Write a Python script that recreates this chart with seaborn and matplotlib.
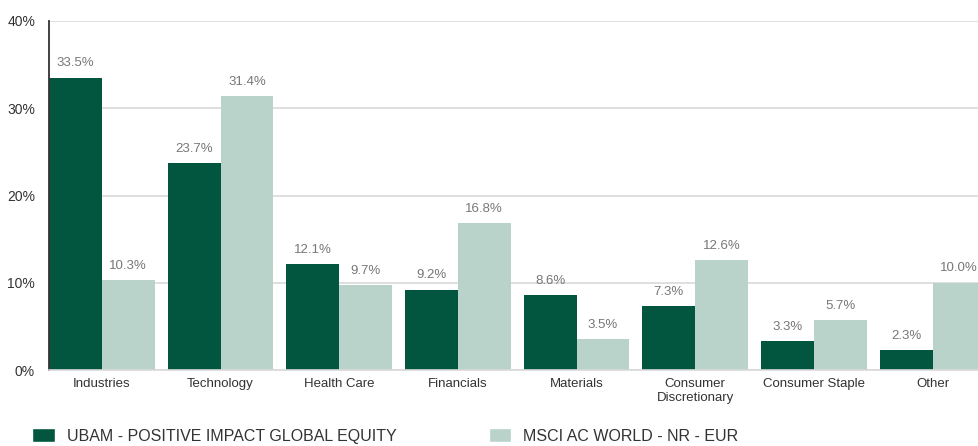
import pandas as pd
import numpy as np
import matplotlib
matplotlib.use("Agg")
import matplotlib.pyplot as plt
import seaborn as sns
from matplotlib.patches import Patch

categories = ["Industries", "Technology", "Health Care", "Financials", "Materials",
              "Consumer\nDiscretionary", "Consumer Staple", "Other"]
fund_name = "UBAM - POSITIVE IMPACT GLOBAL EQUITY"
bench_name = "MSCI AC WORLD - NR - EUR"
fund_values = [33.5, 23.7, 12.1, 9.2, 8.6, 7.3, 3.3, 2.3]
bench_values = [10.3, 31.4, 9.7, 16.8, 3.5, 12.6, 5.7, 10.0]
y_ticks = [0, 10, 20, 30, 40]

dark_green = "#02553e"
light_green = "#b9d3ca"

sns.set_style("white")
plt.rcParams["font.family"] = ["Liberation Sans", "DejaVu Sans"]

df = pd.DataFrame({
    "sector": categories * 2,
    "serie": [fund_name] * len(categories) + [bench_name] * len(categories),
    "value": fund_values + bench_values,
})

fig = plt.figure(figsize=(9.79, 4.46), dpi=100)
ax = fig.add_axes([49 / 979, 1 - 370 / 446, 1 - 49 / 979, (370 - 21) / 446])

sns.barplot(data=df, x="sector", y="value", hue="serie", order=categories,
            hue_order=[fund_name, bench_name],
            palette=[dark_green, light_green], width=0.89, gap=0,
            saturation=1, ax=ax, legend=False, linewidth=0)

# etiquetas de valores
for cont in ax.containers:
    ax.bar_label(cont, labels=[f"{v:.1f}%" for v in cont.datavalues],
                 padding=6, fontsize=9.5, color="#777777")

ax.set_ylim(0, 40)
ax.set_xlim(-0.445, 7.39)
ax.set_yticks(y_ticks)
ax.set_yticklabels([f"{t}%" for t in y_ticks])
ax.set_xlabel("")
ax.set_ylabel("")
ax.grid(axis="y", color="#d9d9d9", linewidth=1.2)
ax.set_axisbelow(True)
ax.tick_params(axis="y", length=0, pad=10, labelsize=10, labelcolor="#333333")
ax.tick_params(axis="x", length=0, pad=6, labelsize=9.5, labelcolor="#333333")
for s in ["top", "right"]:
    ax.spines[s].set_visible(False)
ax.spines["left"].set_color("#333333")
ax.spines["left"].set_linewidth(1.3)
ax.spines["bottom"].set_color("#d9d9d9")
ax.spines["bottom"].set_linewidth(1.2)

# leyenda
handles = [Patch(facecolor=dark_green, label=fund_name),
           Patch(facecolor=light_green, label=bench_name)]
fig.legend(handles=handles, loc="lower left", bbox_to_anchor=(18 / 979, -12 / 446),
           ncol=2, frameon=False, fontsize=11.5, handlelength=1.4, handleheight=1.0,
           handletextpad=0.75, columnspacing=5.8, labelcolor="#333333")

fig.savefig("out.png", dpi=100)
